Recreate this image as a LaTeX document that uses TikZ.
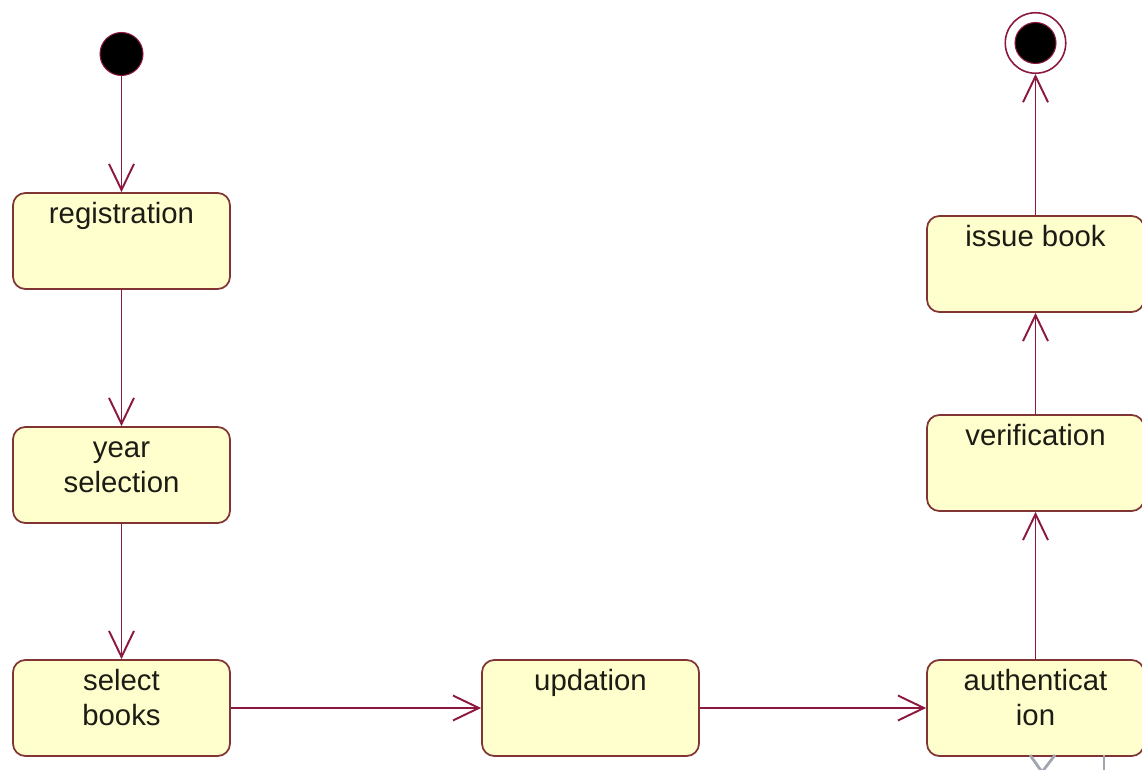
\documentclass[tikz,border=0pt]{standalone}
\usepackage{fontspec}
\setmainfont{Liberation Sans}
\usetikzlibrary{arrows.meta}
\definecolor{flowline}{RGB}{140,24,64}
\definecolor{boxedge}{RGB}{128,52,52}
\definecolor{boxfill}{RGB}{255,255,206}
\definecolor{textink}{RGB}{28,28,20}
\definecolor{ghost}{RGB}{160,165,175}
\tikzset{
  x=0.02cm, y=-0.02cm,
  activity/.style={draw=boxedge, fill=boxfill, line width=1pt, rounded corners=7pt,
    minimum width=4.34cm, minimum height=1.92cm, inner sep=0pt},
  caption/.style={anchor=north, inner sep=0pt, align=center, text=textink,
    font=\fontsize{16.7}{19.9}\selectfont},
  flow/.style={draw=flowline, line width=1.1pt,
    -{Straight Barb[length=0.52cm, width=0.5cm, line width=1.1pt]}},
  startdot/.style={circle, fill=black, draw=flowline, line width=0.6pt,
    minimum size=0.86cm, inner sep=0pt},
  endring/.style={circle, draw=flowline, line width=0.9pt, fill=white,
    minimum size=1.21cm, inner sep=0pt},
  enddot/.style={circle, fill=black, draw=flowline, line width=0.6pt,
    minimum size=0.82cm, inner sep=0pt},
}
\begin{document}
\begin{tikzpicture}
\useasboundingbox (0,0) rectangle (1142,770);
\clip (0,0) rectangle (1142,770);
\fill[white] (0,0) rectangle (1142,770);

% states
\node[startdot] (start) at (121.5,54) {};
\node[endring] (finish) at (1035.5,43) {};
\node[enddot] (finishdot) at (1035.5,43) {};

\node[activity] (reg)  at (121.5,241) {};
\node[activity] (year) at (121.5,475) {};
\node[activity] (sel)  at (121.5,708) {};
\node[activity] (upd)  at (590.5,708) {};
\node[activity] (auth) at (1035.5,708) {};
\node[activity] (ver)  at (1035.5,463) {};
\node[activity] (iss)  at (1035.5,264) {};

% captions, hung from the top edge of each box
\node[caption] (regt)  at ([yshift=-3.6pt]reg.north)  {\strut registration};
\node[caption] (yeart) at ([yshift=-3.6pt]year.north) {\strut year\\selection};
\node[caption] (selt)  at ([yshift=-3.6pt]sel.north)  {\strut select\\books};
\node[caption] (updt)  at ([yshift=-3.6pt]upd.north)  {\strut updation};
\node[caption] (autht) at ([yshift=-3.6pt]auth.north) {\strut authenticat\\ion};
\node[caption] (vert)  at ([yshift=-3.6pt]ver.north)  {\strut verification};
\node[caption] (isst)  at ([yshift=-3.6pt]iss.north)  {\strut issue book};

% transitions
\draw[flow] (start) -- (reg);
\draw[flow] (reg) -- (year);
\draw[flow] (year) -- (sel);
\draw[flow] (sel) -- (upd);
\draw[flow] (upd) -- (auth);
\draw[flow] (auth) -- (ver);
\draw[flow] (ver) -- (iss);
\draw[flow] (iss) -- (finish);

% faint strokes along the lower edge
\draw[ghost, line width=1.6pt] (1030,755) -- (1042,772) -- (1055,755);
\draw[ghost, line width=1.6pt] (1104,755) -- (1104,772);
\end{tikzpicture}
\end{document}
